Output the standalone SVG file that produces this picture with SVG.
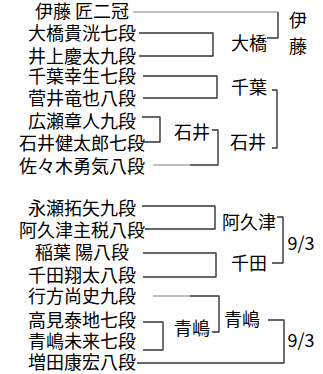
<svg xmlns="http://www.w3.org/2000/svg" width="323" height="374" viewBox="0 0 323 374">
<style>
text{font-family:"Noto Sans CJK JP","Noto Sans",sans-serif;font-size:18px;fill:#000}
.n{text-anchor:middle}
.w{text-anchor:middle}
.c path{fill:none;stroke:#333;stroke-width:1.4;stroke-linejoin:round}
.c path.l{stroke:#aaa}
</style>
<rect width="323" height="374" fill="#fff"/>
<g class="c" id="connectors">
<path class="l" d="M133 12H278"/>
<path d="M278 12V38H267"/>
<path d="M139 33H213V56H139"/>
<path d="M143 76H217V98H143"/>
<path d="M272 90H277V148H272"/>
<path d="M142 117H160V142H143"/>
<path d="M212 130H218V165H190"/>
<path class="l" d="M190 165H153"/>
<path d="M142 206H215V229H145"/>
<path d="M277 217H283V263H272"/>
<path d="M143 253H216V277H143"/>
<path class="l" d="M153 296H190"/>
<path d="M190 296H219V332H212"/>
<path d="M143 322H163V350H143"/>
<path d="M268 320H284V363H137"/>
</g>
<g id="p1"><text class="n" x="82" y="18">伊藤 匠二冠</text></g>
<g id="p2"><text class="n" x="82" y="40">大橋貴洸七段</text></g>
<g id="p3"><text class="n" x="82" y="63">井上慶太九段</text></g>
<g id="p4"><text class="n" x="82" y="83">千葉幸生七段</text></g>
<g id="p5"><text class="n" x="82" y="105">菅井竜也八段</text></g>
<g id="p6"><text class="n" x="82" y="128">広瀬章人九段</text></g>
<g id="p7"><text class="n" x="82" y="150">石井健太郎七段</text></g>
<g id="p8"><text class="n" x="82" y="173">佐々木勇気八段</text></g>
<g id="p9"><text class="n" x="82" y="215">永瀬拓矢九段</text></g>
<g id="p10"><text class="n" x="82" y="237">阿久津主税八段</text></g>
<g id="p11"><text class="n" x="82" y="259">稲葉 陽八段</text></g>
<g id="p12"><text class="n" x="82" y="282">千田翔太八段</text></g>
<g id="p13"><text class="n" x="82" y="303">行方尚史九段</text></g>
<g id="p14"><text class="n" x="82" y="327">高見泰地七段</text></g>
<g id="p15"><text class="n" x="82" y="348">青嶋未来七段</text></g>
<g id="p16"><text class="n" x="82" y="369">増田康宏八段</text></g>
<g id="w-ohashi"><text class="w" x="249" y="50">大橋</text></g>
<g id="w-ito"><text class="w" x="298" y="27">伊</text><text class="w" x="298" y="53">藤</text></g>
<g id="w-chiba"><text class="w" x="249" y="94">千葉</text></g>
<g id="w-ishii1"><text class="w" x="192" y="139">石井</text></g>
<g id="w-ishii2"><text class="w" x="248" y="149">石井</text></g>
<g id="w-akutsu"><text class="w" x="249" y="229">阿久津</text></g>
<g id="w-chida"><text class="w" x="249" y="270">千田</text></g>
<g id="d1"><text class="w" x="301" y="250">9/3</text></g>
<g id="w-aoshima1"><text class="w" x="192" y="335">青嶋</text></g>
<g id="w-aoshima2"><text class="w" x="242" y="326">青嶋</text></g>
<g id="d2"><text class="w" x="301" y="347">9/3</text></g>
</svg>
